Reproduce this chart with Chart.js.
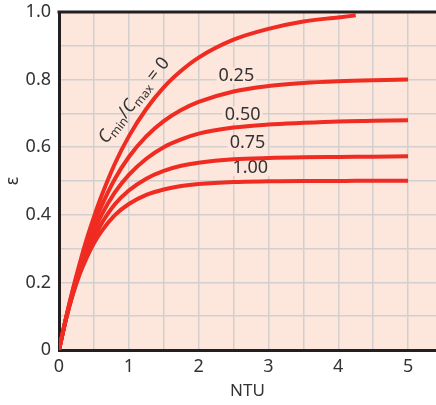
<!DOCTYPE html>
<html>
<head>
<meta charset="utf-8">
<script src="https://cdn.jsdelivr.net/npm/chart.js@4.4.0/dist/chart.umd.min.js"></script>
<style>
  body { margin: 0; background: #fff; }
  #wrap { width: 436px; height: 405px; }
</style>
</head>
<body>
<div id="wrap"><canvas id="myChart" width="436" height="405"></canvas></div>
<script>
// data
var ntu = [0, 0.1, 0.2, 0.3, 0.4, 0.5, 0.6, 0.8, 1.0, 1.25, 1.5, 1.75, 2.0, 2.5, 3.0, 3.5, 4.0, 4.5, 5.0]
var ntuZero = [0, 0.1, 0.2, 0.3, 0.4, 0.5, 0.6, 0.8, 1.0, 1.25, 1.5, 1.75, 2.0, 2.5, 3.0, 3.5, 4.0, 4.25]
var eps0   = [0, 0.095, 0.181, 0.259, 0.330, 0.393, 0.451, 0.551, 0.632, 0.713, 0.777, 0.826, 0.865, 0.918, 0.950, 0.972, 0.984, 0.990]
var eps25  = [0, 0.094, 0.177, 0.250, 0.315, 0.372, 0.422, 0.506, 0.571, 0.632, 0.677, 0.710, 0.734, 0.765, 0.781, 0.790, 0.795, 0.798, 0.800]
var eps50  = [0, 0.093, 0.173, 0.242, 0.301, 0.352, 0.396, 0.466, 0.518, 0.566, 0.600, 0.623, 0.640, 0.658, 0.667, 0.672, 0.676, 0.678, 0.680]
var eps75  = [0, 0.092, 0.169, 0.233, 0.288, 0.333, 0.371, 0.431, 0.472, 0.507, 0.530, 0.545, 0.554, 0.564, 0.568, 0.570, 0.571, 0.572, 0.573]
var eps100 = [0, 0.091, 0.165, 0.226, 0.275, 0.316, 0.349, 0.399, 0.432, 0.459, 0.475, 0.485, 0.491, 0.497, 0.499, 0.500, 0.500, 0.501, 0.501]
var ratioLabels = ['0.25', '0.50', '0.75', '1.00']
var xTicks = [0, 1, 2, 3, 4, 5]
var yTicks = [0, 0.2, 0.4, 0.6, 0.8, 1.0]

var RED = '#ef2b22'
var BG = '#fde6dc'
var FONT = '"Noto Sans", "Open Sans", sans-serif'

function pts(xs, ys) {
    return xs.map(function (x, i) { return { x: x, y: ys[i] } })
}

function curve(data) {
    return {
        data: data,
        borderColor: RED,
        borderWidth: 4,
        pointRadius: 0,
        fill: false,
        cubicInterpolationMode: 'monotone',
        borderCapStyle: 'butt'
    }
}

// pink plot background + top frame + curve labels
var decor = {
    id: 'decor',
    beforeDraw: function (chart) {
        var a = chart.chartArea, c = chart.ctx
        c.save()
        c.fillStyle = BG
        c.fillRect(a.left, a.top, a.right - a.left, a.bottom - a.top)
        c.restore()
    },
    beforeDatasetsDraw: function (chart) {
        var c = chart.ctx
        var xs = chart.scales.x, ys = chart.scales.y
        c.save()
        // ratio labels, under the curves
        var spots = [[2.54, 0.812], [2.63, 0.697], [2.70, 0.612], [2.74, 0.539]]
        c.font = '18px ' + FONT
        c.textAlign = 'center'
        c.textBaseline = 'middle'
        ratioLabels.forEach(function (t, i) {
            var px = xs.getPixelForValue(spots[i][0])
            var py = ys.getPixelForValue(spots[i][1])
            var w = c.measureText(t).width
            c.fillStyle = BG
            c.fillRect(px - w / 2 - 2, py - 8, w + 4, 16)
            c.fillStyle = '#333'
            c.fillText(t, px, py)
        })
        c.restore()
    },
    afterDatasetsDraw: function (chart) {
        var a = chart.chartArea, c = chart.ctx
        var xs = chart.scales.x, ys = chart.scales.y
        c.save()
        // top frame line
        c.strokeStyle = '#231f20'
        c.lineWidth = 3
        c.beginPath()
        c.moveTo(a.left - 1.5, a.top)
        c.lineTo(436, a.top)
        c.stroke()

        // Cmin/Cmax = 0 rotated along the top curve
        var parts = [
            ['C', 'italic 18px ', 0],
            ['min', '12px ', 5],
            ['/', '18px ', 0],
            ['C', 'italic 18px ', 0],
            ['max', '12px ', 5],
            [' = 0', '18px ', 0]
        ]
        var total = 0
        parts.forEach(function (p) { c.font = p[1] + FONT; p.w = c.measureText(p[0]).width; total += p.w })
        c.translate(xs.getPixelForValue(1.076), ys.getPixelForValue(0.738))
        c.rotate(-52 * Math.PI / 180)
        c.textAlign = 'left'
        c.textBaseline = 'middle'
        c.fillStyle = '#333'
        var cx = -total / 2
        parts.forEach(function (p) {
            c.font = p[1] + FONT
            c.fillText(p[0], cx, p[2])
            cx += p.w
        })
        c.restore()
    }
}

var ctx = document.getElementById('myChart')
new Chart(ctx, {
    type: 'line',
    data: {
        datasets: [
            curve(pts(ntuZero, eps0)),
            curve(pts(ntu, eps25)),
            curve(pts(ntu, eps50)),
            curve(pts(ntu, eps75)),
            curve(pts(ntu, eps100))
        ]
    },
    options: {
        responsive: false,
        animation: false,
        devicePixelRatio: 1,
        layout: { padding: { top: 12, right: 0, left: 0, bottom: 0 } },
        plugins: { legend: { display: false }, tooltip: { enabled: false } },
        scales: {
            x: {
                type: 'linear',
                min: 0,
                max: 5.4,
                afterBuildTicks: function (axis) {
                    var t = []
                    for (var i = 0; i <= 10; i++) t.push({ value: i / 2 })
                    axis.ticks = t
                },
                afterFit: function (axis) { axis.height = 55; axis.paddingRight = 0 },
                grid: { color: '#d2cfce', lineWidth: 1.5, drawTicks: false },
                border: { color: '#231f20', width: 3 },
                ticks: {
                    autoSkip: false,
                    maxRotation: 0,
                    padding: 6,
                    color: '#333',
                    font: { size: 18, family: FONT },
                    callback: function (v) { return xTicks.indexOf(v) >= 0 ? String(v) : '' }
                },
                title: {
                    display: true,
                    text: 'NTU',
                    color: '#333',
                    font: { size: 17, family: FONT },
                    padding: { top: 0, bottom: 4 }
                }
            },
            y: {
                min: 0,
                max: 1,
                afterBuildTicks: function (axis) {
                    var t = []
                    for (var i = 0; i <= 10; i++) t.push({ value: i / 10 })
                    axis.ticks = t
                },
                afterFit: function (axis) { axis.width = 59; axis.paddingTop = 0; axis.paddingBottom = 0 },
                grid: { color: '#d2cfce', lineWidth: 1.5, drawTicks: false },
                border: { color: '#231f20', width: 3 },
                ticks: {
                    autoSkip: false,
                    padding: 8,
                    color: '#333',
                    font: { size: 18, family: FONT },
                    callback: function (v) {
                        var k = Math.round(v * 10)
                        if (yTicks.indexOf(k / 10) < 0) return ''
                        return k === 0 ? '0' : (k / 10).toFixed(1)
                    }
                },
                title: {
                    display: true,
                    text: 'ε',
                    color: '#333',
                    font: { size: 18, family: FONT },
                    padding: { top: 2, bottom: 0 }
                }
            }
        }
    },
    plugins: [decor]
})
</script>
</body>
</html>
